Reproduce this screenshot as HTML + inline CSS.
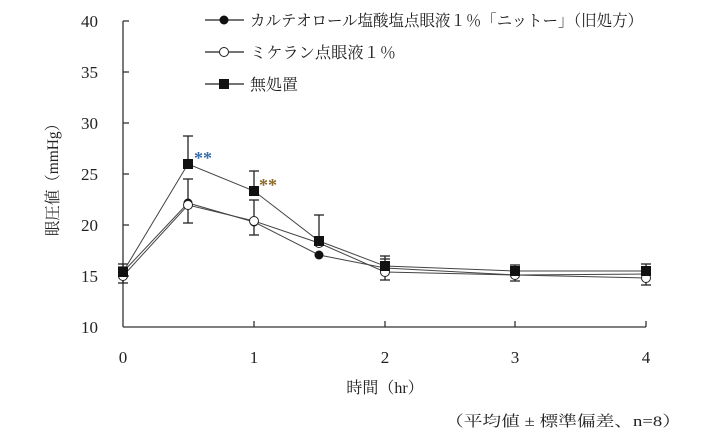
<!DOCTYPE html>
<html><head><meta charset="utf-8"><style>
html,body{margin:0;padding:0;background:#fff;}
svg text{font-family:"Liberation Serif","Noto Serif CJK JP",serif;fill:#222;}
</style></head><body>
<svg width="711" height="439" viewBox="0 0 711 439" xmlns="http://www.w3.org/2000/svg">
<g stroke="#333" stroke-width="1.3" fill="none">
<line x1="123" y1="21" x2="123" y2="327"/>
<line x1="123" y1="327" x2="646" y2="327"/>
<line x1="123" y1="21" x2="129" y2="21"/><line x1="123" y1="72" x2="129" y2="72"/>
<line x1="123" y1="123" x2="129" y2="123"/><line x1="123" y1="174" x2="129" y2="174"/>
<line x1="123" y1="225" x2="129" y2="225"/><line x1="123" y1="276" x2="129" y2="276"/>
<line x1="254" y1="327" x2="254" y2="321"/><line x1="385" y1="327" x2="385" y2="321"/>
<line x1="515" y1="327" x2="515" y2="321"/><line x1="646" y1="327" x2="646" y2="321"/>
</g>
<g font-size="17" text-anchor="end">
<text x="98" y="27">40</text><text x="98" y="78">35</text><text x="98" y="129">30</text>
<text x="98" y="180">25</text><text x="98" y="231">20</text><text x="98" y="282">15</text>
<text x="98" y="333">10</text></g>
<g font-size="17" text-anchor="middle">
<text x="123" y="363">0</text><text x="254" y="363">1</text><text x="385" y="363">2</text>
<text x="515" y="363">3</text><text x="646" y="363">4</text></g>
<text x="385" y="393" font-size="16" text-anchor="middle">時間（hr）</text>
<text x="445" y="426" font-size="15" textLength="236" lengthAdjust="spacingAndGlyphs">（平均値 ± 標準偏差、n=8）</text>
<text transform="translate(58,176) rotate(-90)" font-size="16" text-anchor="middle" textLength="120" lengthAdjust="spacingAndGlyphs">眼圧値（mmHg）</text>
<g stroke="#222" stroke-width="1.3">
<line x1="123" y1="264" x2="123" y2="283"/><line x1="118" y1="264" x2="128" y2="264"/><line x1="118" y1="283" x2="128" y2="283"/><line x1="118" y1="267" x2="128" y2="267"/>
<line x1="188" y1="136" x2="188" y2="164"/><line x1="183" y1="136" x2="193" y2="136"/>
<line x1="188" y1="179" x2="188" y2="223"/><line x1="183" y1="179" x2="193" y2="179"/><line x1="183" y1="223" x2="193" y2="223"/>
<line x1="254" y1="171" x2="254" y2="191"/><line x1="249" y1="171" x2="259" y2="171"/>
<line x1="254" y1="200" x2="254" y2="235"/><line x1="249" y1="200" x2="259" y2="200"/><line x1="249" y1="235" x2="259" y2="235"/>
<line x1="319" y1="215" x2="319" y2="241"/><line x1="314" y1="215" x2="324" y2="215"/>
<line x1="385" y1="256" x2="385" y2="280"/><line x1="380" y1="256" x2="390" y2="256"/><line x1="380" y1="259" x2="390" y2="259"/><line x1="380" y1="280" x2="390" y2="280"/>
<line x1="515" y1="265" x2="515" y2="281"/><line x1="510" y1="265" x2="520" y2="265"/><line x1="510" y1="281" x2="520" y2="281"/>
<line x1="646" y1="264" x2="646" y2="285"/><line x1="641" y1="264" x2="651" y2="264"/><line x1="641" y1="285" x2="651" y2="285"/>
</g>
<g fill="none" stroke="#444" stroke-width="1">
<polyline points="123,272 188,164 254,191 319,241 385,266 515,271 646,271"/>
<polyline points="123,272 188,203 254,222 319,255 385,268 515,275 646,274"/>
<polyline points="123,276 188,205 254,221 319,243 385,272 515,275 646,278"/>
</g>
<g fill="#111">
<circle cx="123" cy="272" r="4.5"/><circle cx="188" cy="203" r="4.5"/><circle cx="254" cy="222" r="4.5"/><circle cx="319" cy="255" r="4.5"/><circle cx="385" cy="268" r="4.5"/><circle cx="515" cy="275" r="4.5"/><circle cx="646" cy="274" r="4.5"/>
</g>
<g fill="#fff" stroke="#222" stroke-width="1">
<circle cx="123" cy="276" r="4.5"/><circle cx="188" cy="205" r="4.5"/><circle cx="254" cy="221" r="4.5"/><circle cx="319" cy="243" r="4.5"/><circle cx="385" cy="272" r="4.5"/><circle cx="515" cy="275" r="4.5"/><circle cx="646" cy="278" r="4.5"/>
</g>
<g fill="#111">
<rect x="118" y="267" width="10" height="10"/><rect x="183" y="159" width="10" height="10"/><rect x="249" y="186" width="10" height="10"/><rect x="314" y="236" width="10" height="10"/><rect x="380" y="261" width="10" height="10"/><rect x="510" y="266" width="10" height="10"/><rect x="641" y="266" width="10" height="10"/>
</g>
<text x="194" y="164" font-size="18" font-weight="bold" style="fill:#3a6ea8">**</text>
<text x="259" y="191" font-size="18" font-weight="bold" style="fill:#8a6a2a">**</text>
<g stroke="#222" stroke-width="1.2"><line x1="205" y1="20" x2="244" y2="20"/><line x1="205" y1="52" x2="244" y2="52"/><line x1="205" y1="84" x2="244" y2="84"/></g>
<circle cx="224" cy="20" r="4.5" fill="#111"/>
<circle cx="224" cy="52" r="4.5" fill="#fff" stroke="#222"/>
<rect x="219" y="79" width="10" height="10" fill="#111"/>
<g font-size="16">
<text x="250" y="26" textLength="393" lengthAdjust="spacingAndGlyphs">カルテオロール塩酸塩点眼液１％「ニットー」（旧処方）</text>
<text x="250" y="58" textLength="146" lengthAdjust="spacingAndGlyphs">ミケラン点眼液１％</text>
<text x="250" y="90">無処置</text>
</g>
</svg>
</body></html>
